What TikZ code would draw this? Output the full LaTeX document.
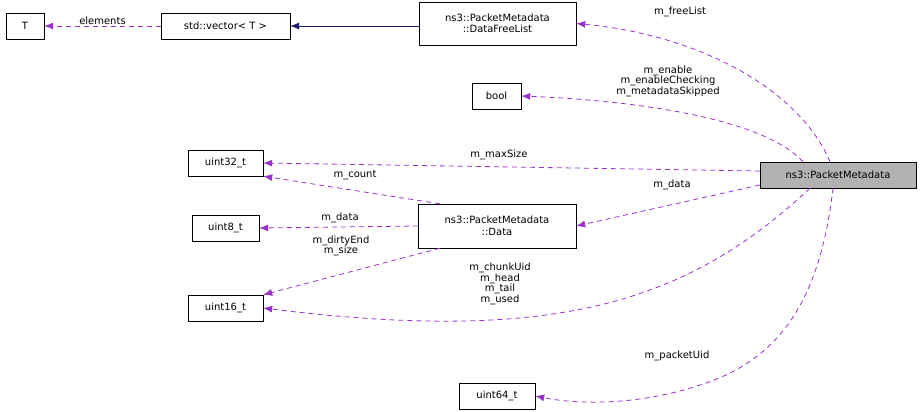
\documentclass[tikz,border=0pt]{standalone}
\usepackage{fontspec}
\setmainfont{DejaVu Sans}
\usetikzlibrary{arrows.meta}
\definecolor{orch}{RGB}{153,50,204}
\definecolor{navy2}{RGB}{25,25,112}
\begin{document}
\begin{tikzpicture}[x=1pt,y=-1pt,
  box/.style={draw,fill=white,inner sep=0pt,font=\fontsize{10}{11.5}\selectfont,align=center},
  lbl/.style={font=\fontsize{10}{10.5}\selectfont,align=center,inner sep=1pt},
  mem/.style={draw=orch,line width=0.8pt,dash pattern=on 5pt off 4pt,-{Latex[length=9pt,width=7pt]}},
  inh/.style={draw=navy2,line width=0.8pt,-{Latex[length=9pt,width=7pt]}}]
\useasboundingbox (0,0) rectangle (923,412);
\node[box,minimum width=38,minimum height=26] (T) at (25,26) {T};
\node[box,minimum width=129,minimum height=26] (vec) at (225.5,26) {std::vector< T >};
\node[box,minimum width=157,minimum height=43] (dfl) at (497.5,23.5) {ns3::PacketMetadata\\::DataFreeList};
\node[box,minimum width=49,minimum height=26] (bool) at (496.5,96) {bool};
\node[box,minimum width=75,minimum height=26] (u32) at (225.5,163) {uint32\_t};
\node[box,minimum width=156,minimum height=26,fill=gray!60] (pm) at (838,175) {ns3::PacketMetadata};
\node[box,minimum width=158,minimum height=44] (data) at (497,226) {ns3::PacketMetadata\\::Data};
\node[box,minimum width=67,minimum height=26] (u8) at (225.5,228) {uint8\_t};
\node[box,minimum width=75,minimum height=26] (u16) at (225.5,308) {uint16\_t};
\node[box,minimum width=76,minimum height=26] (u64) at (497,396) {uint64\_t};

\draw[mem] (vec.west) -- (T.east) node[lbl,midway,above] {elements};
\draw[inh] (dfl.west |- vec.east) -- (vec.east);
\draw[mem] (pm.north) ++(-8,0) coordinate (a1) .. controls (800,90) and (700,35) .. (dfl.east);
\node[lbl] (l1) at (680,12) {m\_freeList};
\draw[mem] (pm.north) ++(-35,0) coordinate (a2) .. controls (760,115) and (620,100) .. (bool.east);
\node[lbl] (l2) at (668,81) {m\_enable\\m\_enableChecking\\m\_metadataSkipped};
\draw[mem] (pm.west) ++(0,-4) coordinate (a3) -- (u32.east);
\node[lbl] (l3) at (499,155) {m\_maxSize};
\draw[mem] (pm.west) ++(0,10) coordinate (a4) -- (data.east);
\node[lbl] (l4) at (672,185) {m\_data};
\draw[mem] (data.north west) ++(22,0) coordinate (a5) -- (u32.south east);
\node[lbl] (l5) at (355,175) {m\_count};
\draw[mem] (data.west) -- (u8.east);
\node[lbl] (l6) at (340,218) {m\_data};
\draw[mem] (data.south west) ++(22,0) coordinate (a7) -- (u16.north east);
\node[lbl] (l7) at (341,246) {m\_dirtyEnd\\m\_size};
\draw[mem] (pm.south) ++(-28,0) coordinate (a8) .. controls (690,300) and (560,345) .. (u16.east);
\node[lbl] (l8) at (500,284) {m\_chunkUid\\m\_head\\m\_tail\\m\_used};
\draw[mem] (pm.south) ++(-5,0) coordinate (a9) .. controls (820,300) and (780,360) .. (700,385) .. controls (640,405) and (580,405) .. (u64.east);
\node[lbl] (l9) at (677,356) {m\_packetUid};
\end{tikzpicture}
\end{document}
